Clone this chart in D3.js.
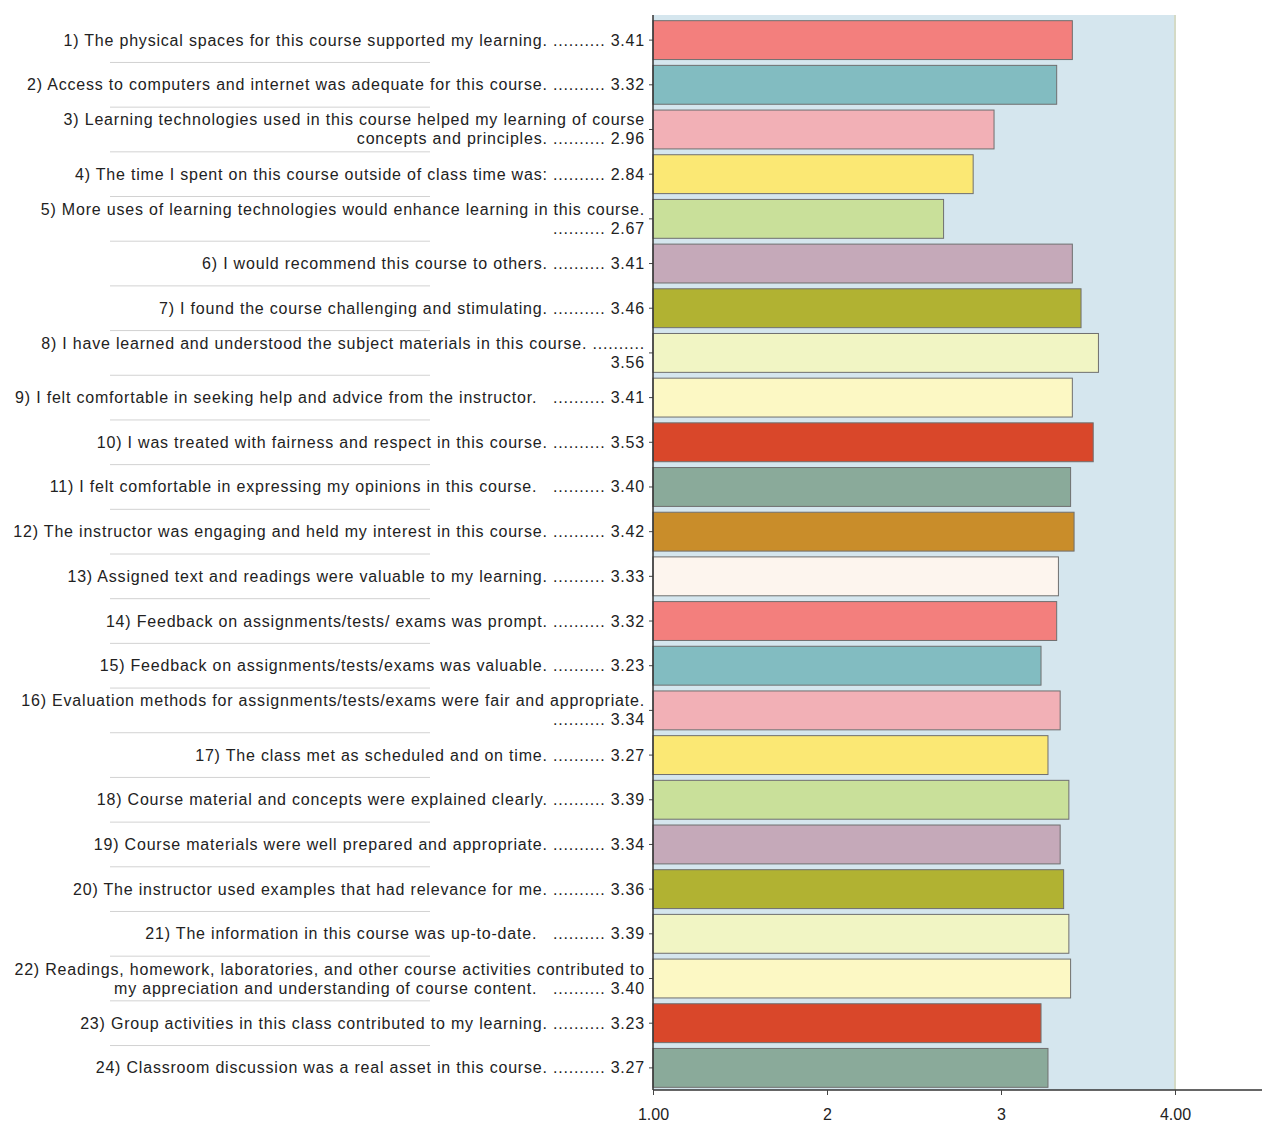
<!DOCTYPE html>
<html>
<head>
<meta charset="utf-8">
<script src="https://cdn.jsdelivr.net/npm/d3@7"></script>
<style>
  body { margin: 0; background: #fff; }
  svg text { font-family: "Liberation Sans", Arial, sans-serif; fill: #222; white-space: pre; }
</style>
</head>
<body>
<svg></svg>
<script>
// label lines for each question (value is added to the last line)
const categories = [
  ["1) The physical spaces for this course supported my learning. .........."],
  ["2) Access to computers and internet was adequate for this course. .........."],
  ["3) Learning technologies used in this course helped my learning of course", "concepts and principles. .........."],
  ["4) The time I spent on this course outside of class time was: .........."],
  ["5) More uses of learning technologies would enhance learning in this course.", ".........."],
  ["6) I would recommend this course to others. .........."],
  ["7) I found the course challenging and stimulating. .........."],
  ["8) I have learned and understood the subject materials in this course. ..........", ""],
  ["9) I felt comfortable in seeking help and advice from the instructor.   .........."],
  ["10) I was treated with fairness and respect in this course. .........."],
  ["11) I felt comfortable in expressing my opinions in this course.   .........."],
  ["12) The instructor was engaging and held my interest in this course. .........."],
  ["13) Assigned text and readings were valuable to my learning. .........."],
  ["14) Feedback on assignments/tests/ exams was prompt. .........."],
  ["15) Feedback on assignments/tests/exams was valuable. .........."],
  ["16) Evaluation methods for assignments/tests/exams were fair and appropriate.", ".........."],
  ["17) The class met as scheduled and on time. .........."],
  ["18) Course material and concepts were explained clearly. .........."],
  ["19) Course materials were well prepared and appropriate. .........."],
  ["20) The instructor used examples that had relevance for me. .........."],
  ["21) The information in this course was up-to-date.   .........."],
  ["22) Readings, homework, laboratories, and other course activities contributed to", "my appreciation and understanding of course content.   .........."],
  ["23) Group activities in this class contributed to my learning. .........."],
  ["24) Classroom discussion was a real asset in this course. .........."]
];

const values = [3.41, 3.32, 2.96, 2.84, 2.67, 3.41, 3.46, 3.56, 3.41, 3.53, 3.40, 3.42,
                3.33, 3.32, 3.23, 3.34, 3.27, 3.39, 3.34, 3.36, 3.39, 3.40, 3.23, 3.27];

const barColors = ["#f37f7d", "#82bcc1", "#f2b0b6", "#fbe874", "#c9e09a", "#c5a9b9", "#b1b232",
                   "#f1f5c4", "#fcf8c4", "#d9472a", "#8aaa9a", "#c98d2a", "#fdf5ee",
                   "#f37f7d", "#82bcc1", "#f2b0b6", "#fbe874", "#c9e09a", "#c5a9b9", "#b1b232",
                   "#f1f5c4", "#fcf8c4", "#d9472a", "#8aaa9a"];

const xTicks = [1, 2, 3, 4];
const xTickLabels = ["1.00", "2", "3", "4.00"];

const svgWidth = 1264, svgHeight = 1124;
const plotLeft = 653, plotRight = 1262, plotTop = 18, plotBottom = 1090;

const svg = d3.select('svg')
  .attr('width', svgWidth)
  .attr('height', svgHeight);

const x = d3.scaleLinear()
  .domain([1, 4.5])
  .range([plotLeft, plotRight]);

const y = d3.scaleBand()
  .domain(d3.range(values.length))
  .range([plotTop, plotBottom])
  .paddingInner(0.13)
  .paddingOuter(0.06);

// plot background, blue up to 4.00
svg.append('rect')
  .attr('x', x(1)).attr('y', plotTop - 3)
  .attr('width', x(4) - x(1)).attr('height', plotBottom - plotTop + 3)
  .attr('fill', '#d5e6ee');

svg.append('line')
  .attr('x1', x(4)).attr('x2', x(4))
  .attr('y1', plotTop - 3).attr('y2', plotBottom)
  .attr('stroke', '#d4dac6').attr('stroke-width', 2);

// faint separators under labels
svg.selectAll('line.sep')
  .data(d3.range(values.length - 1))
  .enter()
  .append('line')
  .attr('class', 'sep')
  .attr('x1', 110).attr('x2', 430)
  .attr('y1', function(d) { return y(d) + y.bandwidth() + y.step() * 0.065; })
  .attr('y2', function(d) { return y(d) + y.bandwidth() + y.step() * 0.065; })
  .attr('stroke', '#d2d2d2');

// bars
svg.selectAll('rect.bar')
  .data(values)
  .enter()
  .append('rect')
  .attr('class', 'bar')
  .attr('x', x(1))
  .attr('y', function(d, i) { return y(i); })
  .attr('width', function(d) { return x(d) - x(1); })
  .attr('height', y.bandwidth())
  .attr('fill', function(d, i) { return barColors[i]; })
  .attr('stroke', '#6f6f6f')
  .attr('stroke-width', 1);

// category labels
const labels = svg.selectAll('text.lab')
  .data(categories)
  .enter()
  .append('text')
  .attr('class', 'lab')
  .attr('text-anchor', 'end')
  .attr('font-size', 16)
  .attr('letter-spacing', 0.8)
  .attr('x', plotLeft - 8)
  .attr('y', function(d, i) { return y(i) + y.bandwidth() / 2 - (d.length - 1) * 9.5 + 5.5; });

labels.each(function(d, i) {
  const t = d3.select(this);
  d.forEach(function(line, j) {
    const txt = j === d.length - 1 ? (line + ' ' + values[i].toFixed(2)).trim() : line;
    t.append('tspan')
      .attr('x', plotLeft - 8)
      .attr('dy', j === 0 ? 0 : 19)
      .text(txt);
  });
});

// y axis
const yAxis = d3.axisLeft(y).tickSize(4).tickFormat('');
svg.append('g')
  .attr('transform', 'translate(' + plotLeft + ',0)')
  .call(yAxis)
  .call(function(g) { g.select('.domain').remove(); })
  .selectAll('line').attr('stroke', '#444');

svg.append('line')
  .attr('x1', plotLeft).attr('x2', plotLeft)
  .attr('y1', plotTop - 3).attr('y2', plotBottom)
  .attr('stroke', '#333').attr('stroke-width', 1.5);

// x axis
const xAxis = d3.axisBottom(x)
  .tickValues(xTicks)
  .tickSize(5)
  .tickFormat(function(d, i) { return xTickLabels[i]; });

const gx = svg.append('g')
  .attr('transform', 'translate(0,' + plotBottom + ')')
  .call(xAxis);
gx.select('.domain').attr('stroke', '#333').attr('stroke-width', 1.5)
  .attr('d', 'M' + plotLeft + ',0H' + plotRight);
gx.selectAll('line').attr('stroke', '#444');
gx.selectAll('text').attr('font-size', 16).attr('fill', '#222').attr('dy', '1.35em')
  .style('font-family', '"Liberation Sans", Arial, sans-serif');
</script>
</body>
</html>
